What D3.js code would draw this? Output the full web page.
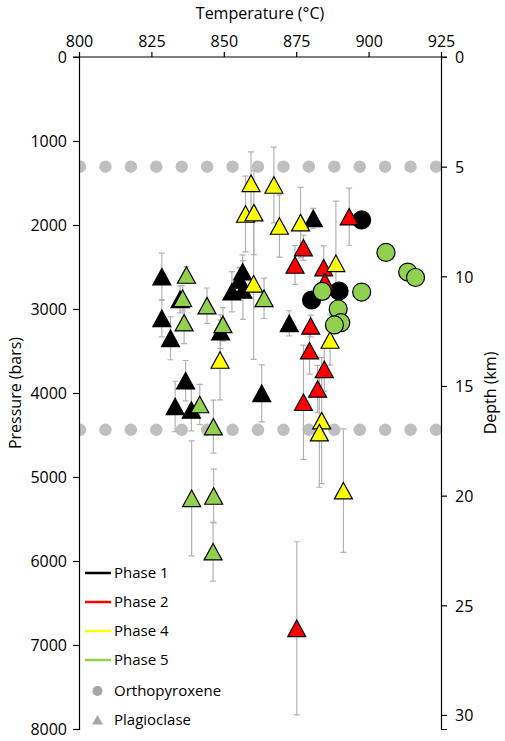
<!DOCTYPE html>
<html><head><meta charset="utf-8">
<script src="https://cdn.jsdelivr.net/npm/d3@7"></script>
<style>
html,body{margin:0;padding:0;background:#fff;}
svg{display:block;font-family:"Open Sans",sans-serif;}
</style></head>
<body>
<svg id="chart" width="505" height="741"></svg>
<script>
// ---- data: [temperature °C, pressure bars, error bars (±)]
const phase1Plag = [
  [828.6,2615,280],[834.9,2885,160],[828.6,3111,220],[831.6,3349,255],[848.9,3270,200],
  [856.5,2556,200],[855.4,2655,150],[852.8,2794,240],[856.6,2774,350],[863.1,4004,340],
  [836.8,3853,240],[833.2,4160,300],[838.8,4202,250],[872.6,3171,150],[880.9,1921,120]
];
const phase2Plag = [
  [893.3,1901,340],[877.5,2270,150],[874.6,2476,230],[884.5,2508,260],[884.9,2675,100],
  [880.0,3202,130],[879.6,3496,280],[884.7,3718,260],[882.4,3952,280],[877.5,4110,680],
  [875.2,6801,1030]
];
const phase4Plag = [
  [859.4,1504,375],[867.3,1524,450],[857.5,1869,450],[860.4,1853,500],[869.2,2012,370],
  [876.5,1972,420],[888.7,2456,740],[860.3,2700,900],[848.7,3607,476],[886.7,3369,300],
  [883.8,4329,750],[883.0,4472,650],[891.3,5163,735]
];
const phase5Plag = [
  [837.1,2595,100],[835.8,2873,150],[836.3,3163,250],[844.2,2960,210],[849.7,3183,200],
  [863.9,2873,240],[841.7,4137,240],[846.4,4401,315],[838.9,5254,685],[846.5,5226,320],
  [846.3,5889,350]
];
const phase1Opx = [[897.6,1940],[889.8,2786],[880.3,2893]];
const phase5Opx = [
  [906.0,2327],[913.5,2560],[916.2,2625],[884.0,2790],[897.6,2798],
  [889.5,3000],[890.4,3163],[888.2,3190]
];
const depthLines = [5, 17];              // km
const tempTicks = [800,825,850,875,900,925];
const pressTicks = [0,1000,2000,3000,4000,5000,6000,7000,8000];
const depthTicks = [0,5,10,15,20,25,30];
const phaseNames = ["Phase 1","Phase 2","Phase 4","Phase 5"];
const phaseColors = ["#000000","#ff0000","#ffff00","#92d050"];
const mineralNames = ["Orthopyroxene","Plagioclase"];

// ---- layout
const L = 79, R = 441, T = 57, B = 729;
const svg = d3.select("#chart");
const x = d3.scaleLinear().domain([800,925]).range([L,R]);
const y = d3.scaleLinear().domain([0,8000]).range([T,B]);
const yd = d3.scaleLinear().domain([0,30.64]).range([T,B]);
const axisCol = "#000";
const fs = "16px";
const fmt = d3.format("d");

svg.append("defs").append("clipPath").attr("id","plot")
  .append("rect").attr("x",L).attr("y",T-10).attr("width",R-L).attr("height",B-T+20);

// depth reference dotted lines
svg.append("g").attr("clip-path","url(#plot)").selectAll("line").data(depthLines).join("line")
  .attr("x1",L+1).attr("x2",R+12).attr("y1",d=>yd(d)).attr("y2",d=>yd(d))
  .attr("stroke","#bfbfbf").attr("stroke-width",12.5).attr("stroke-linecap","round")
  .attr("stroke-dasharray","0 25.43");

// axes
const gTop = svg.append("g").attr("transform",`translate(0,${T})`)
  .call(d3.axisTop(x).tickValues(tempTicks).tickFormat(fmt).tickSize(5).tickPadding(5));
const gLeft = svg.append("g").attr("transform",`translate(${L},0)`)
  .call(d3.axisLeft(y).tickValues(pressTicks).tickFormat(fmt).tickSize(6).tickPadding(6));
const gRight = svg.append("g").attr("transform",`translate(${R},0)`)
  .call(d3.axisRight(yd).tickValues(depthTicks).tickFormat(fmt).tickSize(6).tickPadding(8));
[gTop,gLeft,gRight].forEach(g=>{
  g.select(".domain").attr("stroke",axisCol).attr("stroke-width",1.2);
  g.selectAll(".tick line").attr("stroke",axisCol).attr("stroke-width",1.2);
  g.selectAll(".tick text").attr("fill","#000").style("font-size",fs).style("font-family","Open Sans");
});
gTop.select(".domain").attr("d",`M${L-6},0H${R+6}`);
gLeft.selectAll(".tick text").attr("dy","0.36em");
gRight.selectAll(".tick text").attr("dy","0.36em");

// axis titles
svg.append("text").attr("x",(L+R)/2).attr("y",19).attr("text-anchor","middle")
  .style("font-size",fs).text("Temperature (°C)");
svg.append("text").attr("transform",`translate(21,${(T+B)/2}) rotate(-90)`).attr("text-anchor","middle")
  .style("font-size",fs).text("Pressure (bars)");
svg.append("text").attr("transform",`translate(496,${(T+B)/2}) rotate(-90)`).attr("text-anchor","middle")
  .style("font-size",fs).text("Depth (km)");

// error bars
const plagSeries = [phase1Plag, phase2Plag, phase4Plag, phase5Plag];
const eg = svg.append("g").attr("stroke","#b3b3b3").attr("stroke-width",1.2).attr("fill","none");
plagSeries.forEach(s=>{
  s.forEach(d=>{
    const cx = x(d[0]), y1 = y(d[1]-d[2]), y2 = y(d[1]+d[2]);
    eg.append("path").attr("d",`M${cx},${y1}V${y2}M${cx-3},${y1}H${cx+3}M${cx-3},${y2}H${cx+3}`);
  });
});

// markers
const tw = 18, th = 16.5;
const tri = `M0,${-th/2}L${tw/2},${th/2}L${-tw/2},${th/2}Z`;
function drawTri(data, color){
  svg.append("g").selectAll("path").data(data).join("path")
    .attr("d",tri).attr("transform",d=>`translate(${x(d[0])},${y(d[1])})`)
    .attr("fill",color).attr("stroke","#000").attr("stroke-width",1.2).attr("stroke-linejoin","miter");
}
function drawCirc(data, color){
  svg.append("g").selectAll("circle").data(data).join("circle")
    .attr("cx",d=>x(d[0])).attr("cy",d=>y(d[1])).attr("r",9)
    .attr("fill",color).attr("stroke","#000").attr("stroke-width",1.2);
}
drawTri(phase1Plag, phaseColors[0]);
drawCirc(phase1Opx, phaseColors[0]);
drawTri(phase2Plag, phaseColors[1]);
drawTri(phase4Plag, phaseColors[2]);
drawTri(phase5Plag, phaseColors[3]);
drawCirc(phase5Opx, phaseColors[3]);

// legend
const lg = svg.append("g");
phaseNames.forEach((n,i)=>{
  const ly = 573 + i*29;
  lg.append("line").attr("x1",85).attr("x2",111).attr("y1",ly).attr("y2",ly)
    .attr("stroke",phaseColors[i]).attr("stroke-width",2.5);
  lg.append("text").attr("x",114).attr("y",ly).attr("dy","0.35em").style("font-size","15px").text(n);
});
const my0 = 573 + 4*29 + 2;
lg.append("circle").attr("cx",97.5).attr("cy",my0).attr("r",5).attr("fill","#a6a6a6");
lg.append("text").attr("x",114).attr("y",my0).attr("dy","0.35em").style("font-size","15px").text(mineralNames[0]);
const my1 = my0 + 29;
lg.append("path").attr("d","M0,-5L5.5,4.5L-5.5,4.5Z").attr("transform",`translate(97.5,${my1})`).attr("fill","#a6a6a6");
lg.append("text").attr("x",114).attr("y",my1).attr("dy","0.35em").style("font-size","15px").text(mineralNames[1]);
</script>
</body></html>
